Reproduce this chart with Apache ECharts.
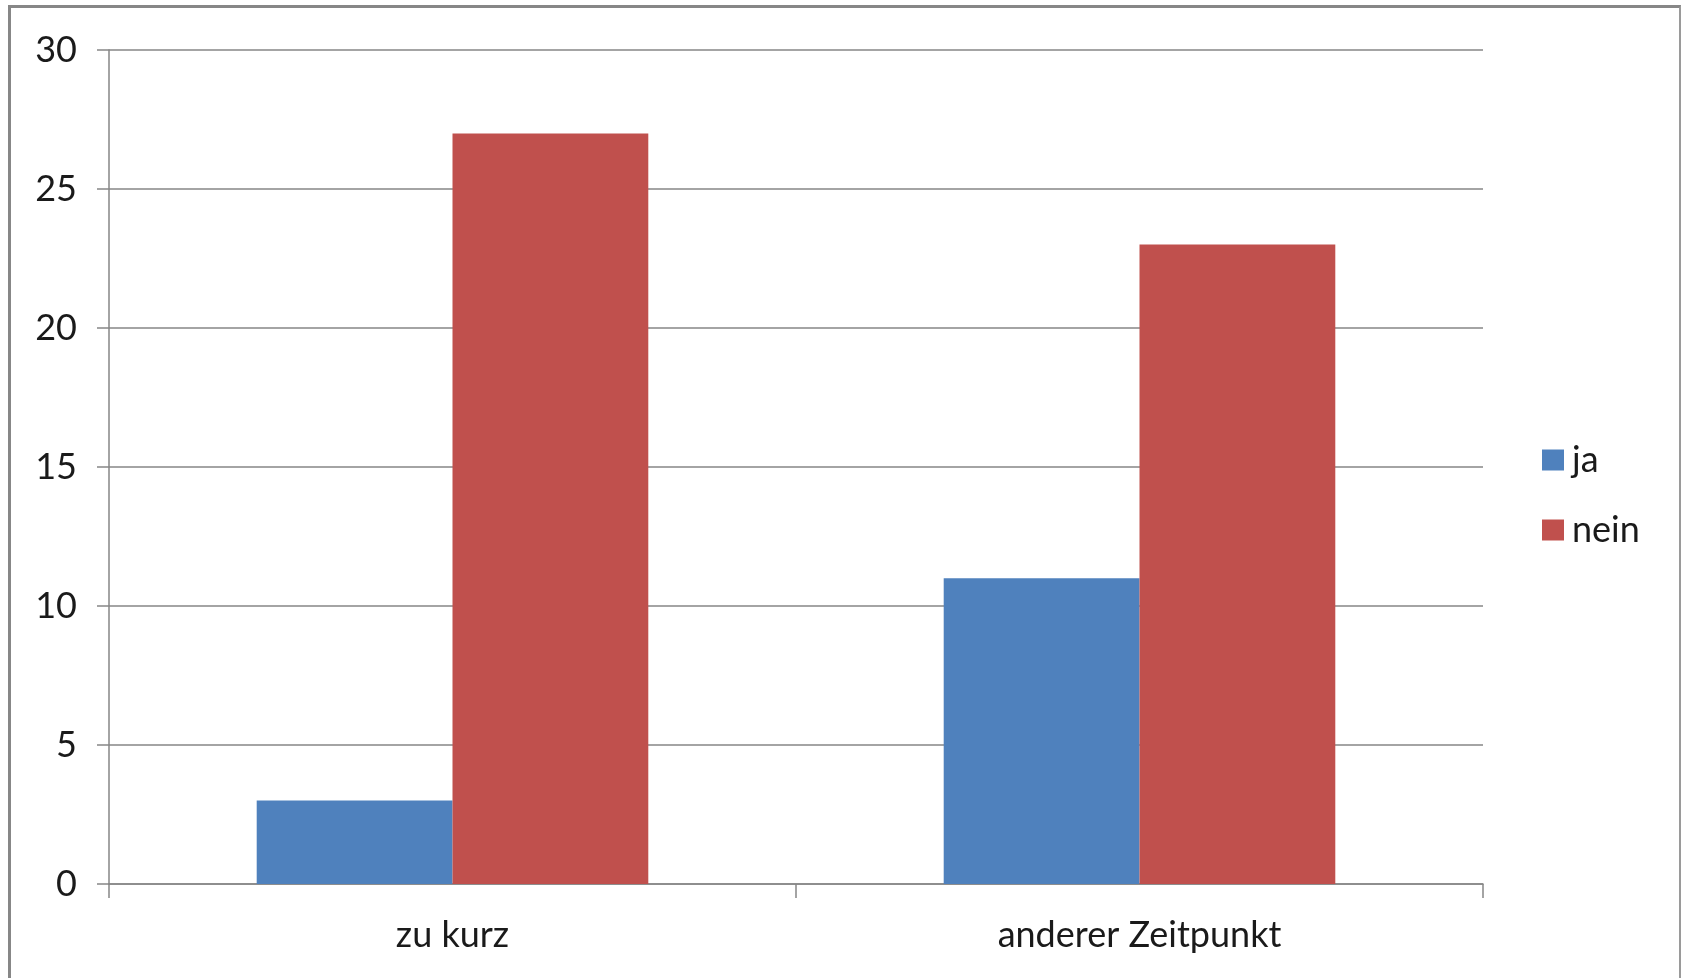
<!DOCTYPE html>
<html>
<head>
<meta charset="utf-8">
<script src="https://cdn.jsdelivr.net/npm/echarts@6/dist/echarts.min.js"></script>
<style>
html,body{margin:0;padding:0;background:#fff;overflow:hidden;}
#chart{position:absolute;left:0;top:0;width:1681px;height:978px;}
#frame{position:absolute;left:8px;top:5px;width:1668px;height:1000px;border-left:3px solid #878787;border-top:3px solid #878787;border-right:2px solid #9a9a9a;pointer-events:none;}
</style>
</head>
<body>
<div id="chart"></div>
<div id="frame"></div>
<script>
const categories = ['zu kurz', 'anderer Zeitpunkt'];
const seriesNames = ['ja', 'nein'];
const jaValues = [3, 11];
const neinValues = [27, 23];
const yTicks = [0, 5, 10, 15, 20, 25, 30];

const chart = echarts.init(document.getElementById('chart'), null, {renderer: 'canvas'});
const font = 'Lato, "Open Sans", sans-serif';
chart.setOption({
  animation: false,
  backgroundColor: '#fff',
  grid: {left: 109, right: 198, top: 50, bottom: 94, containLabel: false},
  legend: {
    data: seriesNames,
    orient: 'vertical',
    left: 1537,
    top: 437,
    itemWidth: 22,
    itemHeight: 21,
    itemGap: 34,
    icon: 'rect',
    textStyle: {fontFamily: font, fontSize: 36, color: '#1a1a1a', padding: [0, 0, 0, 3]}
  },
  xAxis: {
    type: 'category',
    data: categories,
    axisLine: {lineStyle: {color: '#868686', width: 1.5}},
    axisTick: {show: true, length: 14, lineStyle: {color: '#868686', width: 1.5}},
    axisLabel: {fontFamily: font, fontSize: 36, color: '#1a1a1a', margin: 33}
  },
  yAxis: {
    type: 'value',
    min: yTicks[0],
    max: yTicks[yTicks.length - 1],
    interval: 5,
    axisLine: {show: true, lineStyle: {color: '#868686', width: 1.5}},
    axisTick: {show: true, length: 12, lineStyle: {color: '#868686', width: 1.5}},
    splitLine: {show: true, lineStyle: {color: '#868686', width: 1.5}},
    axisLabel: {fontFamily: font, fontSize: 36, color: '#1a1a1a', margin: 32}
  },
  series: [
    {name: seriesNames[0], type: 'bar', data: jaValues, barGap: '0%', barCategoryGap: '43%', itemStyle: {color: '#4F81BD'}},
    {name: seriesNames[1], type: 'bar', data: neinValues, barGap: '0%', barCategoryGap: '43%', itemStyle: {color: '#C0504D'}}
  ]
});
</script>
</body>
</html>
